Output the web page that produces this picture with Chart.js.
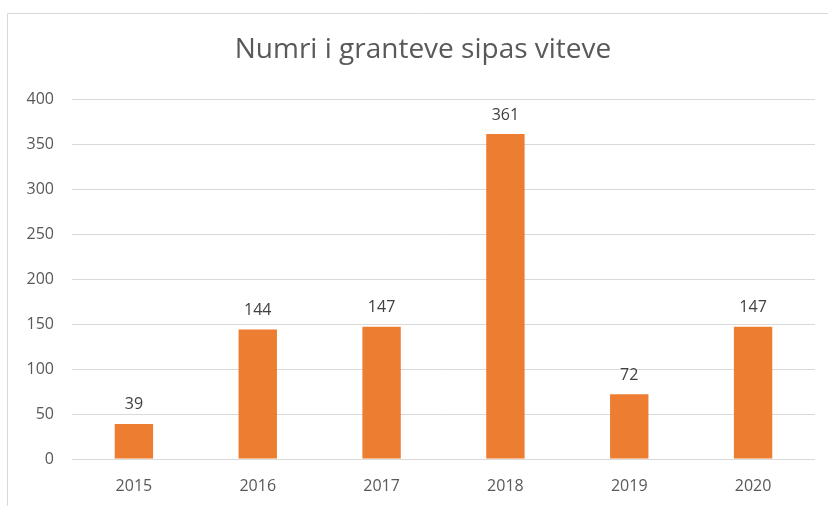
<!DOCTYPE html>
<html>
<head>
<meta charset="utf-8">
<script src="https://cdn.jsdelivr.net/npm/chart.js@4/dist/chart.umd.min.js"></script>
<style>
  html, body { margin: 0; padding: 0; background: #ffffff; }
  #wrap { position: relative; width: 828px; height: 506px; }
  canvas { display: block; }
</style>
</head>
<body>
<div id="wrap"><canvas id="c" width="828" height="506"></canvas></div>
<script>
const titleText = "Numri i granteve sipas viteve";
const categories = ["2015", "2016", "2017", "2018", "2019", "2020"];
const grantCounts = [39, 144, 147, 361, 72, 147];
const yTicks = [0, 50, 100, 150, 200, 250, 300, 350, 400];

const FONT = "'Open Sans', 'Liberation Sans', sans-serif";

const frame = {
  id: 'frame',
  beforeDraw(chart) {
    const ctx = chart.ctx;
    ctx.save();
    ctx.fillStyle = '#ffffff';
    ctx.fillRect(0, 0, chart.width, chart.height);
    ctx.strokeStyle = '#d9d9d9';
    ctx.lineWidth = 1;
    ctx.beginPath();
    ctx.moveTo(7.5, 506);
    ctx.lineTo(7.5, 13.5);
    ctx.lineTo(828, 13.5);
    ctx.stroke();
    // chart title (centred like the reference, a little right of the plot centre)
    ctx.font = "28px " + FONT;
    ctx.fillStyle = '#595959';
    ctx.textAlign = 'center';
    ctx.textBaseline = 'middle';
    ctx.fillText(titleText, 423, 50);
    ctx.restore();
  }
};

const valueLabels = {
  id: 'valueLabels',
  afterDatasetsDraw(chart) {
    const ctx = chart.ctx;
    const meta = chart.getDatasetMeta(0);
    ctx.save();
    ctx.font = "16px " + FONT;
    ctx.fillStyle = '#404040';
    ctx.textAlign = 'center';
    ctx.textBaseline = 'bottom';
    meta.data.forEach((bar, i) => {
      ctx.fillText(String(chart.data.datasets[0].data[i]), bar.x, bar.y - 11);
    });
    ctx.restore();
  }
};

new Chart(document.getElementById('c'), {
  type: 'bar',
  data: {
    labels: categories,
    datasets: [{
      data: grantCounts,
      backgroundColor: '#ed7d31',
      borderWidth: 0,
      categoryPercentage: 1.0,
      barPercentage: 0.31
    }]
  },
  options: {
    responsive: false,
    animation: false,
    devicePixelRatio: 1,
    layout: { padding: { left: 0, right: 13, top: 99, bottom: 0 } },
    plugins: {
      legend: { display: false },
      tooltip: { enabled: false },
      title: { display: false }
    },
    scales: {
      x: {
        grid: { display: false, drawTicks: false },
        border: { display: false },
        ticks: {
          color: '#595959',
          font: { family: FONT, size: 16 },
          padding: 18
        },
        afterFit(scale) { scale.height = 47; }
      },
      y: {
        min: 0,
        max: 400,
        grid: { color: '#d9d9d9', drawTicks: false, lineWidth: 1 },
        border: { display: false },
        afterBuildTicks(scale) { scale.ticks = yTicks.map(v => ({ value: v })); },
        ticks: {
          color: '#595959',
          font: { family: FONT, size: 16 },
          padding: 18
        },
        afterFit(scale) { scale.width = 72; }
      }
    }
  },
  plugins: [frame, valueLabels]
});
</script>
</body>
</html>
